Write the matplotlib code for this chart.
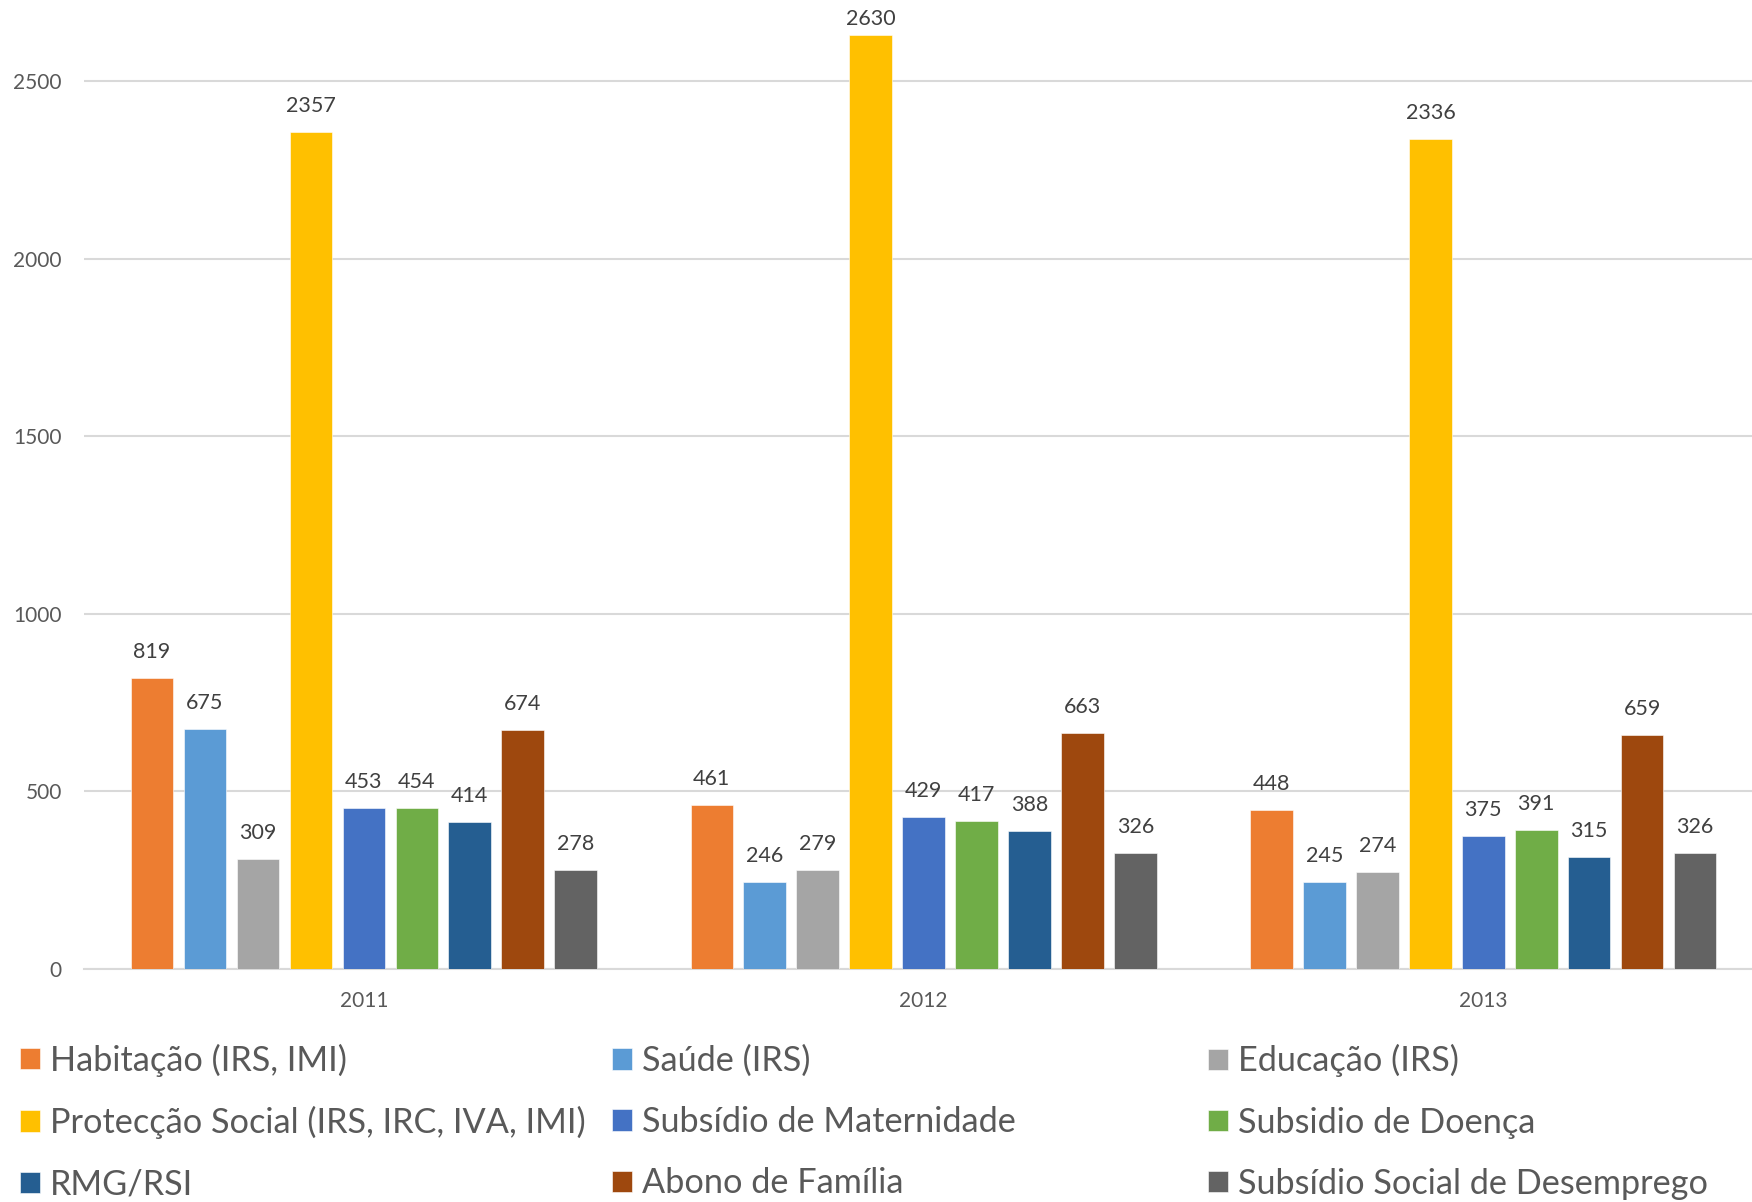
import matplotlib
matplotlib.use("Agg")
import matplotlib.pyplot as plt
import numpy as np

years = ["2011", "2012", "2013"]
series_names = [
    "Habitação (IRS, IMI)",
    "Saúde (IRS)",
    "Educação (IRS)",
    "Protecção Social (IRS, IRC, IVA, IMI)",
    "Subsídio de Maternidade",
    "Subsidio de Doença",
    "RMG/RSI",
    "Abono de Família",
    "Subsídio Social de Desemprego",
]
habitacao = [819, 461, 448]
saude = [675, 246, 245]
educacao = [309, 279, 274]
proteccao = [2357, 2630, 2336]
maternidade = [453, 429, 375]
doenca = [454, 417, 391]
rmg = [414, 388, 315]
abono = [674, 663, 659]
desemprego = [278, 326, 326]
series_values = [habitacao, saude, educacao, proteccao, maternidade, doenca, rmg, abono, desemprego]
colors = ["#ED7D31", "#5B9BD5", "#A5A5A5", "#FFC000", "#4472C4", "#70AD47", "#255E91", "#9E480E", "#636363"]
yticks = [0, 500, 1000, 1500, 2000, 2500]

plt.rcParams['font.family'] = ['Lato', 'DejaVu Sans']
W, H = 1752, 1202
dpi = 100
fig = plt.figure(figsize=(W / dpi, H / dpi), dpi=dpi)
left_px, right_px, top_px, bottom_px = 84, 1752, 0, 969
ax = fig.add_axes([left_px / W, 1 - bottom_px / H, (right_px - left_px) / W, (bottom_px - top_px) / H])

text_color = "#595959"
pitch = 0.0946
width = 0.076
x = np.arange(len(years))
ymax = 2728
ax.set_ylim(0, ymax)
ax.set_xlim(-0.5, 2.48)
px_per_unit = (bottom_px - top_px) / ymax

handles = []
for i, (name, vals, c) in enumerate(zip(series_names, series_values, colors)):
    b = ax.bar(x + (i - 4) * pitch, vals, width, color=c, label=name, zorder=3,
               edgecolor="white", linewidth=0.4)
    handles.append(b)
    for xi, v in zip(x + (i - 4) * pitch, vals):
        room = (ymax - v) * px_per_unit  # pixels from bar top to axes top
        off_px = min(26, room - 19)
        ax.annotate(str(v), (xi, v), xytext=(0, off_px * 72 / dpi), textcoords="offset points",
                    ha="center", va="center", fontsize=15.5, color="#404040", annotation_clip=False)

ax.set_yticks(yticks)
ax.yaxis.grid(True, color="#D9D9D9", linewidth=1.5, zorder=0)
ax.set_axisbelow(True)
for s in ["top", "right", "left"]:
    ax.spines[s].set_visible(False)
ax.spines["bottom"].set_color("#D9D9D9")
ax.spines["bottom"].set_linewidth(1.5)
ax.set_xticks(x)
ax.set_xticklabels(years)
ax.tick_params(axis="both", length=0, labelsize=15, labelcolor=text_color)
ax.tick_params(axis="x", pad=16)
ax.tick_params(axis="y", pad=16)

col_x = [20, 612, 1208]
mid_y = 1 - 1122 / H
for c in range(3):
    hs = [handles[c + 3 * r] for r in range(3)]
    labs = [series_names[c + 3 * r] for r in range(3)]
    leg = fig.legend(hs, labs, loc="center left", bbox_to_anchor=(col_x[c] / W, mid_y),
                     frameon=False, fontsize=24.7, borderpad=0, borderaxespad=0,
                     handlelength=0.58, handleheight=0.58, handletextpad=0.3,
                     labelspacing=0.85)
    for t in leg.get_texts():
        t.set_color(text_color)

fig.savefig("out.png", dpi=dpi)
